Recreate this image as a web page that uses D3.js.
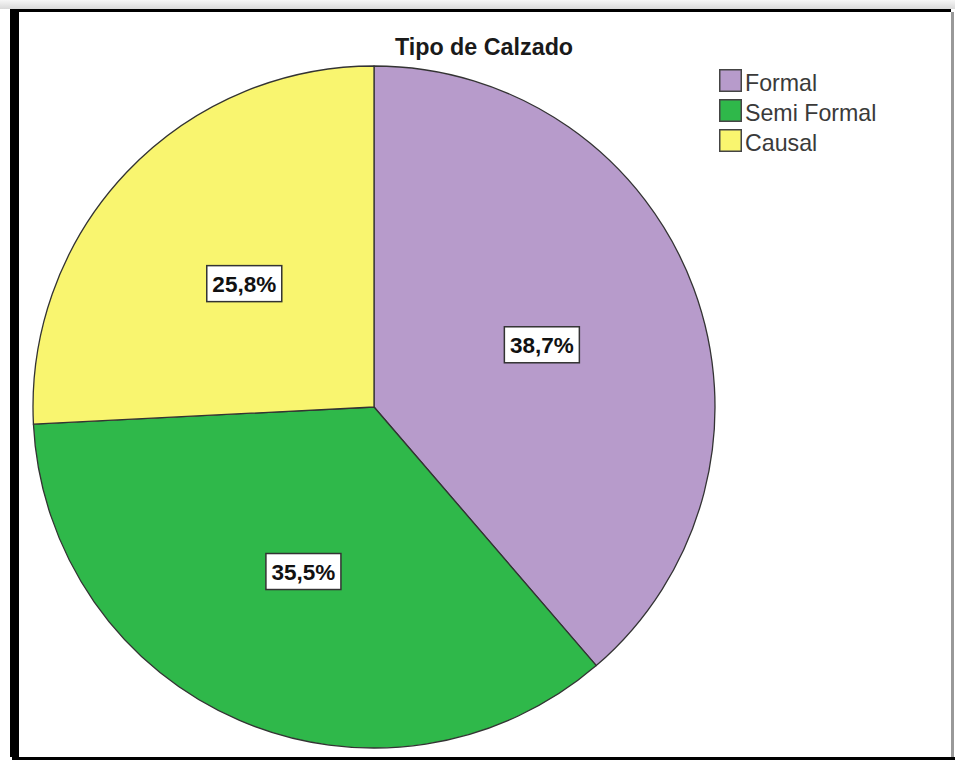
<!DOCTYPE html>
<html>
<head>
<meta charset="utf-8">
<script src="https://cdn.jsdelivr.net/npm/d3@7/dist/d3.min.js"></script>
<style>
  html, body { margin: 0; padding: 0; background: #ffffff; }
  svg { display: block; }
</style>
</head>
<body>
<svg id="chart" width="955" height="760"></svg>
<script>
// Shoe type distribution (percent of respondents)
const categories = ["Formal", "Semi Formal", "Causal"];
const percents = [38.7, 35.5, 25.8];
const colors = ["#b79bcb", "#2fb84a", "#f9f56f"];
const title = "Tipo de Calzado";

const svg = d3.select("#chart");
const W = 955, H = 760;

// Frame: light shaded strip on top, heavy dark rules on top/left/bottom, grey rule on right
const defs = svg.append("defs");
const grad = defs.append("linearGradient").attr("id", "topShade")
  .attr("x1", 0).attr("y1", 0).attr("x2", 0).attr("y2", 1);
grad.append("stop").attr("offset", "0%").attr("stop-color", "#f6f6f6");
grad.append("stop").attr("offset", "100%").attr("stop-color", "#d9d9d9");
svg.append("rect").attr("x", 0).attr("y", 0).attr("width", W).attr("height", 9)
  .attr("fill", "url(#topShade)");
svg.append("rect").attr("x", 10).attr("y", 9).attr("width", 941).attr("height", 3).attr("fill", "#000");
svg.append("rect").attr("x", 10).attr("y", 9).attr("width", 9).attr("height", 748).attr("fill", "#000");
svg.append("rect").attr("x", 12).attr("y", 757).attr("width", W - 12).attr("height", 3).attr("fill", "#000");
svg.append("rect").attr("x", 951).attr("y", 12).attr("width", 3).attr("height", 745).attr("fill", "#999");

// Title
svg.append("text")
  .attr("x", 484).attr("y", 55)
  .attr("text-anchor", "middle")
  .attr("font-family", "Liberation Sans, Arial, sans-serif")
  .attr("font-weight", "bold")
  .attr("font-size", 23.3)
  .attr("fill", "#1a1a1a")
  .text(title);

// Pie
const cx = 374, cy = 407, R = 341;
const color = d3.scaleOrdinal().domain(categories).range(colors);
const pie = d3.pie().sort(null).value(d => d.value).startAngle(0).endAngle(2 * Math.PI);
const data = categories.map((c, i) => ({ name: c, value: percents[i] }));
const arcs = pie(data);
const arc = d3.arc().innerRadius(0).outerRadius(R);
const labelArc = d3.arc().innerRadius(R * 0.525).outerRadius(R * 0.525);

const g = svg.append("g").attr("transform", `translate(${cx},${cy})`);
g.selectAll("path.slice").data(arcs).join("path")
  .attr("class", "slice")
  .attr("d", arc)
  .attr("fill", d => color(d.data.name))
  .attr("stroke", "#333")
  .attr("stroke-width", 1.3)
  .attr("stroke-linejoin", "round");

// Percentage labels in white boxes
const fmt = v => v.toFixed(1).replace(".", ",") + "%";
const lab = g.selectAll("g.lab").data(arcs).join("g")
  .attr("class", "lab")
  .attr("transform", d => `translate(${labelArc.centroid(d)})`);
lab.append("rect")
  .attr("x", -37.5).attr("y", -18).attr("width", 75).attr("height", 36)
  .attr("fill", "#fff").attr("stroke", "#333").attr("stroke-width", 1.5);
lab.append("text")
  .attr("text-anchor", "middle")
  .attr("dominant-baseline", "central")
  .attr("y", 1)
  .attr("font-family", "Liberation Sans, Arial, sans-serif")
  .attr("font-weight", "bold")
  .attr("font-size", 22.5)
  .attr("fill", "#111")
  .text(d => fmt(d.data.value));

// Legend
const legend = svg.append("g").attr("transform", "translate(719,69)");
const items = legend.selectAll("g").data(categories).join("g")
  .attr("transform", (d, i) => `translate(0,${i * 30})`);
items.append("rect")
  .attr("x", 0.75).attr("y", 0.75).attr("width", 21.5).attr("height", 21.5)
  .attr("fill", d => color(d)).attr("stroke", "#444").attr("stroke-width", 1.5);
items.append("text")
  .attr("x", 26).attr("y", 14)
  .attr("dominant-baseline", "central")
  .attr("font-family", "Liberation Sans, Arial, sans-serif")
  .attr("font-size", 23.2)
  .attr("fill", "#3a3a3a")
  .text(d => d);
</script>
</body>
</html>
